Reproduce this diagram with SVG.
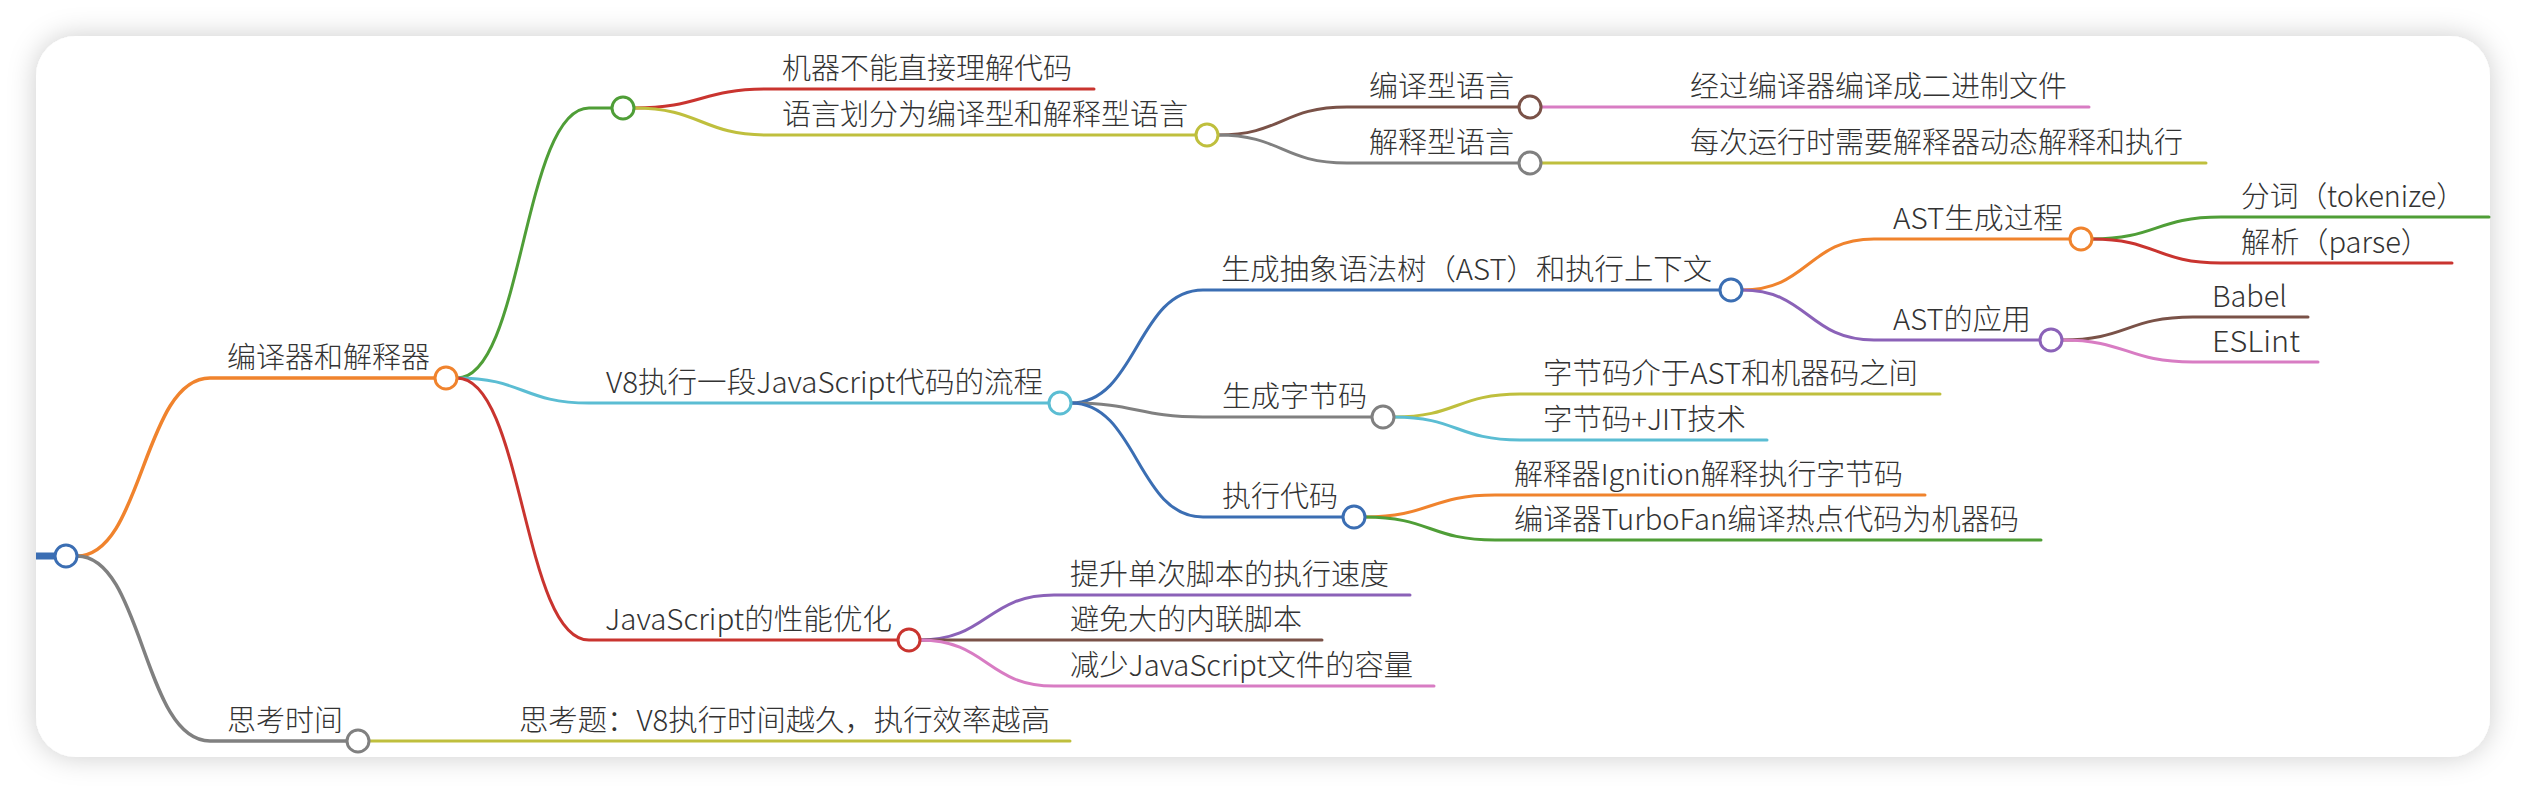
<svg xmlns="http://www.w3.org/2000/svg" width="2526" height="794" viewBox="0 0 2526 794">
<defs>
<filter id="sh" x="-5%" y="-10%" width="110%" height="120%">
<feDropShadow dx="0" dy="0" stdDeviation="14" flood-color="#000" flood-opacity="0.2"/>
</filter>
<style>
text{font-family:'Noto Sans CJK SC','Noto Sans',sans-serif;font-size:29px;font-weight:300;fill:#333;}
.c path{fill:none;stroke-width:3;stroke-linecap:round;}
circle{fill:#fff;stroke-width:3;}
.blue{stroke:#3b6eb3;}
.orange{stroke:#f0832d;}
.green{stroke:#4f9e37;}
.cyan{stroke:#5bbdd3;}
.red{stroke:#c9342f;}
.gray{stroke:#808080;}
.yg{stroke:#bfbf3d;}
.brown{stroke:#7a5248;}
.pink{stroke:#d87cc3;}
.purple{stroke:#8b62b8;}
</style>
</defs>
<rect x="0" y="0" width="2526" height="794" fill="#fff"/>
<rect x="36" y="36" width="2454" height="721" rx="40" ry="40" fill="#fff" filter="url(#sh)"/>
<g id="connectors" class="c">
<path class="blue" d="M36,556 H56" style="stroke-width:7;stroke-linecap:butt"/>
<path class="orange" d="M77,556 C143,556 143,378 210,378 H435" style="stroke-width:3.5"/>
<path class="gray" d="M77,556 C143,556 143,741 210,741 H347" style="stroke-width:3.5"/>
<path class="green" d="M457,378 C523,378 523,108 589,108 H612"/>
<path class="cyan" d="M457,378 C523,378 523,403 589,403 H1049"/>
<path class="red" d="M457,378 C523,378 523,640 589,640 H898"/>
<path class="red" d="M634,108 C701,108 701,89 768,89 H1094"/>
<path class="yg" d="M634,108 C701,108 701,135 768,135 H1196"/>
<path class="brown" d="M1218,135 C1282,135 1282,107 1347,107 H1519"/>
<path class="gray" d="M1218,135 C1282,135 1282,163 1347,163 H1519"/>
<path class="pink" d="M1541,107 H2089"/>
<path class="yg" d="M1541,163 H2206"/>
<path class="blue" d="M1071,403 C1137,403 1137,290 1203,290 H1720"/>
<path class="gray" d="M1071,403 C1137,403 1137,417 1203,417 H1372"/>
<path class="blue" d="M1071,403 C1137,403 1137,517 1203,517 H1343"/>
<path class="orange" d="M1742,290 C1808,290 1808,239 1874,239 H2070"/>
<path class="purple" d="M1742,290 C1808,290 1808,340 1874,340 H2040"/>
<path class="green" d="M2092,239 C2156,239 2156,217 2221,217 H2489"/>
<path class="red" d="M2092,239 C2156,239 2156,263 2221,263 H2452"/>
<path class="brown" d="M2062,340 C2127,340 2127,317 2193,317 H2308"/>
<path class="pink" d="M2062,340 C2127,340 2127,362 2193,362 H2318"/>
<path class="yg" d="M1394,417 C1457,417 1457,394 1520,394 H1940"/>
<path class="cyan" d="M1394,417 C1457,417 1457,440 1520,440 H1767"/>
<path class="orange" d="M1365,517 C1430,517 1430,495 1495,495 H1925"/>
<path class="green" d="M1365,517 C1430,517 1430,540 1495,540 H2041"/>
<path class="purple" d="M920,640 C987,640 987,595 1054,595 H1410"/>
<path class="brown" d="M920,640 H1322"/>
<path class="pink" d="M920,640 C987,640 987,686 1054,686 H1434"/>
<path class="yg" d="M369,741 H1070"/>
</g>
<g id="root"><circle class="blue" cx="66" cy="556" r="11"/></g>
<g id="n-compiler"><text x="227" y="368">编译器和解释器</text><circle class="orange" cx="446" cy="378" r="11"/></g>
<g id="n-think"><text x="227" y="731">思考时间</text><circle class="gray" cx="358" cy="741" r="11"/></g>
<g id="n-think-q"><text x="519" y="731" textLength="531" lengthAdjust="spacingAndGlyphs">思考题：V8执行时间越久，执行效率越高</text></g>
<g id="n-green"><circle class="green" cx="623" cy="108" r="11"/></g>
<g id="n-machine"><text x="782" y="79">机器不能直接理解代码</text></g>
<g id="n-lang"><text x="782" y="125">语言划分为编译型和解释型语言</text><circle class="yg" cx="1207" cy="135" r="11"/></g>
<g id="n-compiled"><text x="1369" y="97">编译型语言</text><circle class="brown" cx="1530" cy="107" r="11"/></g>
<g id="n-interp"><text x="1369" y="153">解释型语言</text><circle class="gray" cx="1530" cy="163" r="11"/></g>
<g id="n-compiled-d"><text x="1690" y="97">经过编译器编译成二进制文件</text></g>
<g id="n-interp-d"><text x="1690" y="153">每次运行时需要解释器动态解释和执行</text></g>
<g id="n-v8"><text x="606" y="393" textLength="437" lengthAdjust="spacingAndGlyphs">V8执行一段JavaScript代码的流程</text><circle class="cyan" cx="1060" cy="403" r="11"/></g>
<g id="n-ast"><text x="1221" y="280" textLength="491" lengthAdjust="spacingAndGlyphs">生成抽象语法树（AST）和执行上下文</text><circle class="blue" cx="1731" cy="290" r="11"/></g>
<g id="n-astgen"><text x="1893" y="229" textLength="170" lengthAdjust="spacingAndGlyphs">AST生成过程</text><circle class="orange" cx="2081" cy="239" r="11"/></g>
<g id="n-token"><text x="2241" y="207" textLength="224" lengthAdjust="spacingAndGlyphs">分词（tokenize）</text></g>
<g id="n-parse"><text x="2241" y="253" textLength="189" lengthAdjust="spacingAndGlyphs">解析（parse）</text></g>
<g id="n-astuse"><text x="1893" y="330" textLength="138" lengthAdjust="spacingAndGlyphs">AST的应用</text><circle class="purple" cx="2051" cy="340" r="11"/></g>
<g id="n-babel"><text x="2212" y="307" textLength="75" lengthAdjust="spacingAndGlyphs">Babel</text></g>
<g id="n-eslint"><text x="2212" y="352" textLength="88" lengthAdjust="spacingAndGlyphs">ESLint</text></g>
<g id="n-bytecode"><text x="1222" y="407">生成字节码</text><circle class="gray" cx="1383" cy="417" r="11"/></g>
<g id="n-bc1"><text x="1543" y="384" textLength="375" lengthAdjust="spacingAndGlyphs">字节码介于AST和机器码之间</text></g>
<g id="n-bc2"><text x="1543" y="430" textLength="203" lengthAdjust="spacingAndGlyphs">字节码+JIT技术</text></g>
<g id="n-exec"><text x="1222" y="507">执行代码</text><circle class="blue" cx="1354" cy="517" r="11"/></g>
<g id="n-ex1"><text x="1514" y="485" textLength="389" lengthAdjust="spacingAndGlyphs">解释器Ignition解释执行字节码</text></g>
<g id="n-ex2"><text x="1514" y="530" textLength="505" lengthAdjust="spacingAndGlyphs">编译器TurboFan编译热点代码为机器码</text></g>
<g id="n-perf"><text x="605" y="630" textLength="287" lengthAdjust="spacingAndGlyphs">JavaScript的性能优化</text><circle class="red" cx="909" cy="640" r="11"/></g>
<g id="n-p1"><text x="1070" y="585">提升单次脚本的执行速度</text></g>
<g id="n-p2"><text x="1070" y="630">避免大的内联脚本</text></g>
<g id="n-p3"><text x="1070" y="676" textLength="343" lengthAdjust="spacingAndGlyphs">减少JavaScript文件的容量</text></g>
</svg>
